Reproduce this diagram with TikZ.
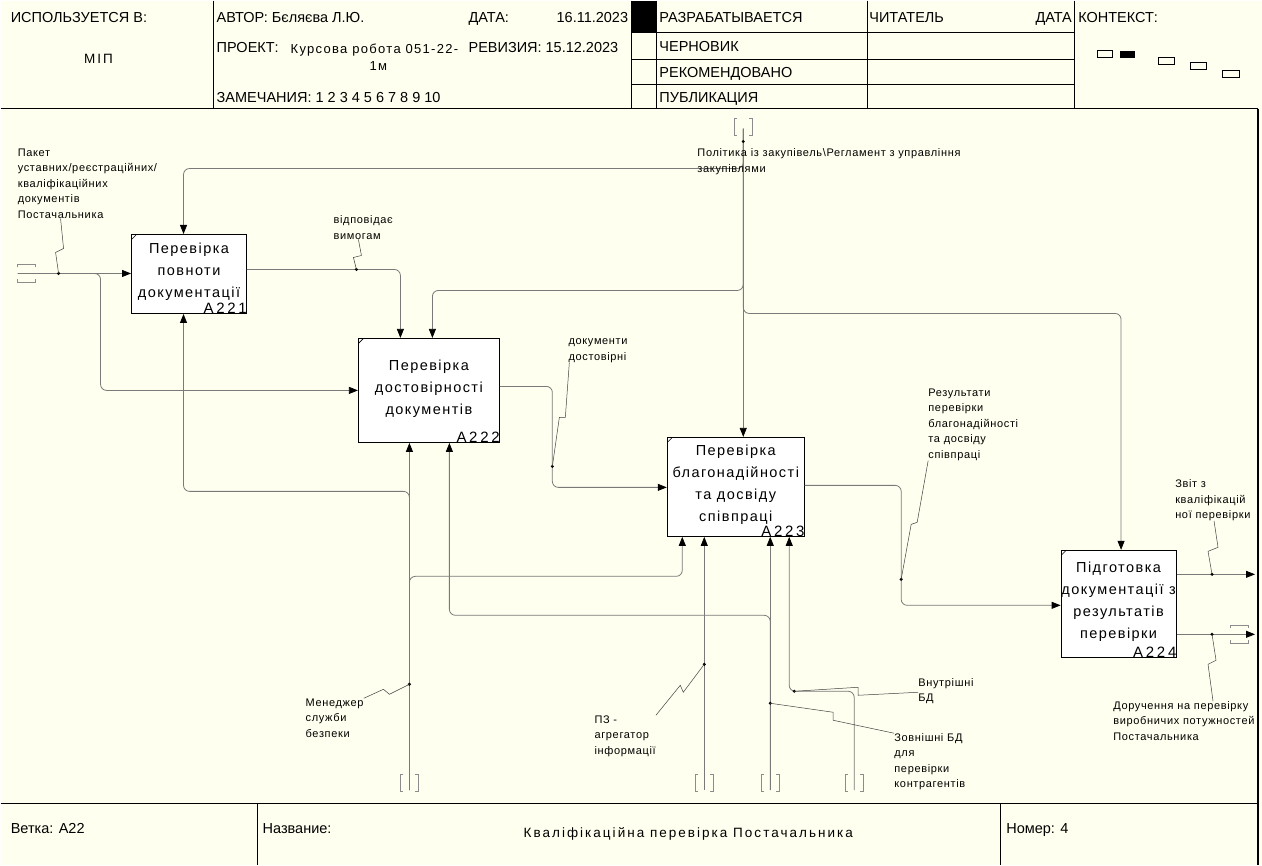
\documentclass[tikz,border=0pt]{standalone}
\usepackage{fontspec}
\setmainfont{Liberation Sans}
\newfontfamily\lblfont[LetterSpace=6]{Liberation Sans}
\newfontfamily\boxfont[LetterSpace=10]{Liberation Sans}
\newfontfamily\numfont[LetterSpace=18]{Liberation Sans}
\newfontfamily\ttlfont[LetterSpace=15]{Liberation Sans}
\usetikzlibrary{arrows.meta,positioning,calc}
\definecolor{paper}{HTML}{FFFFEF}
\definecolor{flowc}{HTML}{7A7A7A}
\definecolor{tunc}{HTML}{8C8C8C}
\tikzset{
  proc/.style={draw, fill=white, line width=1pt, align=center, inner xsep=0pt, inner ysep=2pt, text depth=7pt,
    font=\boxfont\fontsize{14.5}{22}\selectfont,
    path picture={\draw[line width=.6pt] ([yshift=-5pt]path picture bounding box.north west) -- ([xshift=5pt]path picture bounding box.north west);}},
  num/.style={anchor=south east, inner xsep=0pt, inner ysep=.5pt, text depth=0pt, font=\numfont\fontsize{15}{15}\selectfont},
  flow/.style={draw=flowc, line width=.8pt, rounded corners=6pt, -{Triangle[length=9pt,width=7pt,color=black]}},
  lead/.style={draw=black!75, line width=.5pt},
  lbl/.style={anchor=north west, inner sep=0pt, align=left, font=\lblfont\fontsize{11}{15.5}\selectfont},
  hdr/.style={anchor=base west, inner sep=0pt, font=\fontsize{14.5}{16}\selectfont},
  frame/.style={draw=black, line width=1.2pt},
  tun/.style={draw=tunc, line width=.7pt},
  dot/.style={circle, fill=black, inner sep=0pt, minimum size=3.4pt},
}
% tunnel brackets: vertical arrow (x, top y), horizontal arrow (left x, y)
\newcommand{\tunnelv}[2]{%
  \draw[tun] (#1-6,#2) -- (#1-9,#2) -- (#1-9,#2+17) -- (#1-6,#2+17);
  \draw[tun] (#1+6,#2) -- (#1+9,#2) -- (#1+9,#2+17) -- (#1+6,#2+17);}
\newcommand{\tunnelh}[2]{%
  \draw[tun] (#1,#2-6) -- (#1,#2-9) -- (#1+18,#2-9) -- (#1+18,#2-6);
  \draw[tun] (#1,#2+6) -- (#1,#2+9) -- (#1+18,#2+9) -- (#1+18,#2+6);}
\begin{document}
\begin{tikzpicture}[x=1pt,y=-1pt]
\fill[paper] (0,0) rectangle (1262,865);

% header
\draw[frame] (0,108) -- (1258,108);
\foreach \x in {213,631,656,867,1074} \draw[frame] (\x,0) -- (\x,108);
\foreach \y in {32,59,84} \draw[frame,line width=.8pt] (631,\y) -- (1074,\y);
\fill (631,0) rectangle (656,32);
\node[hdr] (used) at (10,22) {ИСПОЛЬЗУЕТСЯ В:};
\node[anchor=base, font=\ttlfont\fontsize{13.5}{14}\selectfont] (mip) at (98,63) {МІП};
\node[hdr] (author) at (216,22) {АВТОР: Бєляєва Л.Ю.};
\node[hdr] (date) at (468,22) {ДАТА:};
\node[hdr,anchor=base east] (dateval) at (628,22) {16.11.2023};
\node[hdr] (proj) at (216,52) {ПРОЕКТ:};
\node[anchor=base west, inner sep=0pt, font=\boxfont\fontsize{13}{14}\selectfont] (projval) at (290,53) {Курсова робота 051-22-};
\node[anchor=base, font=\boxfont\fontsize{13}{14}\selectfont] (projval2) at (378,70) {1м};
\node[hdr] (rev) at (468,52) {РЕВИЗИЯ: 15.12.2023};
\node[hdr] (notes) at (216,102) {ЗАМЕЧАНИЯ: 1 2 3 4 5 6 7 8 9 10};
\node[hdr] (st1) at (659,22) {РАЗРАБАТЫВАЕТСЯ};
\node[hdr] (st2) at (659,51) {ЧЕРНОВИК};
\node[hdr] (st3) at (659,77) {РЕКОМЕНДОВАНО};
\node[hdr] (st4) at (659,102) {ПУБЛИКАЦИЯ};
\node[hdr] (reader) at (869,22) {ЧИТАТЕЛЬ};
\node[hdr,anchor=base east] (rdate) at (1072,22) {ДАТА};
\node[hdr] (ctx) at (1078,22) {КОНТЕКСТ:};
\draw[line width=.7pt] (1097,50) rectangle (1112,57);
\fill (1120,50) rectangle (1135,57);
\draw[line width=.7pt] (1158,57) rectangle (1174,64);
\draw[line width=.7pt] (1190,62) rectangle (1206,69);
\draw[line width=.7pt] (1222,70) rectangle (1239,77);

% footer
\draw[frame] (0,803) -- (1258,803);
\draw[frame] (1258,108) -- (1258,865);
\draw[frame] (257,803) -- (257,865);
\draw[frame] (1000,803) -- (1000,865);
\node[hdr] (node) at (10,833) {Ветка: А22};
\node[hdr] (name) at (262,833) {Название:};
\node[anchor=base, font=\ttlfont\fontsize{13.5}{15}\selectfont] (title) at (688,837) {Кваліфікаційна перевірка Постачальника};
\node[hdr] (num) at (1006,833) {Номер: 4};

% activity boxes
\node[proc, minimum width=115pt, minimum height=79pt, label={[num]south east:A221}] (a221) at (188.5,273.5) {Перевірка\\повноти\\документації};
\node[proc, minimum width=141pt, minimum height=104pt, label={[num]south east:A222}] (a222) at (428.5,390) {Перевірка\\достовірності\\документів};
\node[proc, minimum width=137pt, minimum height=99pt, label={[num]south east:A223}] (a223) at (735.5,486.5) {Перевірка\\благонадійності\\та досвіду\\співпраці};
\node[proc, minimum width=115pt, minimum height=107pt, label={[num]south east:A224}] (a224) at (1118.5,603.5) {Підготовка\\документації з\\результатів\\перевірки};

% boundary points
\coordinate (tin) at (17,273);
\coordinate (tctl) at (743,128);
\coordinate (tmgr) at (409,790);
\coordinate (tpz) at (704,790);
\coordinate (tzov) at (770,790);
\coordinate (tvnu) at (854,790);
\coordinate (out1) at (1255,574);
\coordinate (out2) at (1255,634);
\tunnelh{17}{273}
\tunnelh{1230}{634}
\tunnelv{743}{118}
\foreach \x in {409,704,770,854} {\tunnelv{\x}{774}}

% inputs and outputs
\draw[flow] (tin) -- (tin -| a221.west);
\draw[flow] (tin) -| (100,390) -- (a222.west |- 0,390);
\draw[flow] (a221.east |- 0,269) -| (a222.north -| 400,0);
\draw[flow] (a222.east |- 0,386) -| (552,487) -- (a223.west |- 0,487);
\draw[flow] (a223.east |- 0,485) -| (901,605) -- (a224.west |- 0,605);
\draw[flow] (a224.east |- 0,574) -- (out1);
\draw[flow] (a224.east |- 0,634) -- (out2);

% controls
\draw[flow] (tctl) -- (tctl |- a223.north);
\draw[flow] (tctl) |- (183,168) -- (a221.north -| 183,0);
\draw[flow] (tctl) |- (432,290) -- (a222.north -| 432,0);
\draw[flow] (tctl) |- (1121,313) -- (a224.north -| 1121,0);

% mechanisms
\draw[flow] (tmgr) -- (tmgr |- a222.south);
\draw[flow] (tmgr) |- (183,491) -- (a221.south -| 183,0);
\draw[flow] (tmgr) |- (682,576) -- (a223.south -| 682,0);
\draw[flow] (tpz) -- (tpz |- a223.south);
\draw[flow] (tzov) -- (tzov |- a223.south);
\draw[flow] (tzov) |- (449,615) -- (a222.south -| 449,0);
\draw[flow] (tvnu) |- (789,691) -- (a223.south -| 789,0);

% arrow labels
\node[lbl] (lpak) at (17,148) {Пакет\\уставних/реєстраційних/\\кваліфікаційних\\документів\\Постачальника};
\node[lbl] (lvid) at (333,215) {відповідає\\вимогам};
\node[lbl] (lpol) at (697,148) {Політика із закупівель\textbackslash Регламент з управління\\закупівлями};
\node[lbl] (ldok) at (568,338) {документи\\достовірні};
\node[lbl] (lrez) at (928,388) {Результати\\перевірки\\благонадійності\\та досвіду\\співпраці};
\node[lbl] (lzvit) at (1175,479) {Звіт з\\кваліфікацій\\ної перевірки};
\node[lbl] (ldor) at (1113,701) {Доручення на перевірку\\виробничих потужностей\\Постачальника};
\node[lbl] (lmen) at (305,698) {Менеджер\\служби\\безпеки};
\node[lbl] (lpz) at (594,715) {ПЗ -\\агрегатор\\інформації};
\node[lbl] (lvnu) at (918,678) {Внутрішні\\БД};
\node[lbl] (lzov) at (894,733) {Зовнішні БД\\для\\перевірки\\контрагентів};

% label leaders
\node[dot] (d1) at (58,273) {};
\node[dot] (d2) at (356,269) {};
\node[dot] (d3) at (743,141) {};
\node[dot] (d4) at (552,466) {};
\node[dot] (d5) at (901,579) {};
\node[dot] (d6) at (1212,574) {};
\node[dot] (d7) at (1212,634) {};
\node[dot] (d8) at (409,684) {};
\node[dot] (d9) at (704,664) {};
\node[dot] (d10) at (794,691) {};
\node[dot] (d11) at (770,703) {};
\draw[lead] (d1.center) -- (55,252) -- (63,248) -- (lpak.south -| 60,0);
\draw[lead] (d2.center) -- (353,257) -- (361,255) -- (lvid.south -| 358,0);
\draw[lead] (d4.center) -- (559,417) -- (565,417) -- (ldok.south -| 569,0);
\draw[lead] (d5.center) -- (911,524) -- (917,522) -- (lrez.south -| 928,0);
\draw[lead] (d6.center) -- (1208,551) -- (1218,547) -- (lzvit.south -| 1214,0);
\draw[lead] (d7.center) -- (1216,660) -- (1208,664) -- (ldor.north -| 1213,0);
\draw[lead] (d8.center) -- (389,694) -- (383,689) -- (lmen.north east);
\draw[lead] (d9.center) -- (683,692) -- (680,685) -- (lpz.north east);
\draw[lead] (d10.center) -- (858,687) -- (858,695) -- (lvnu.west |- 0,692);
\draw[lead] (d11.center) -- (833,712) -- (833,720) -- (lzov.north west);
\end{tikzpicture}
\end{document}
